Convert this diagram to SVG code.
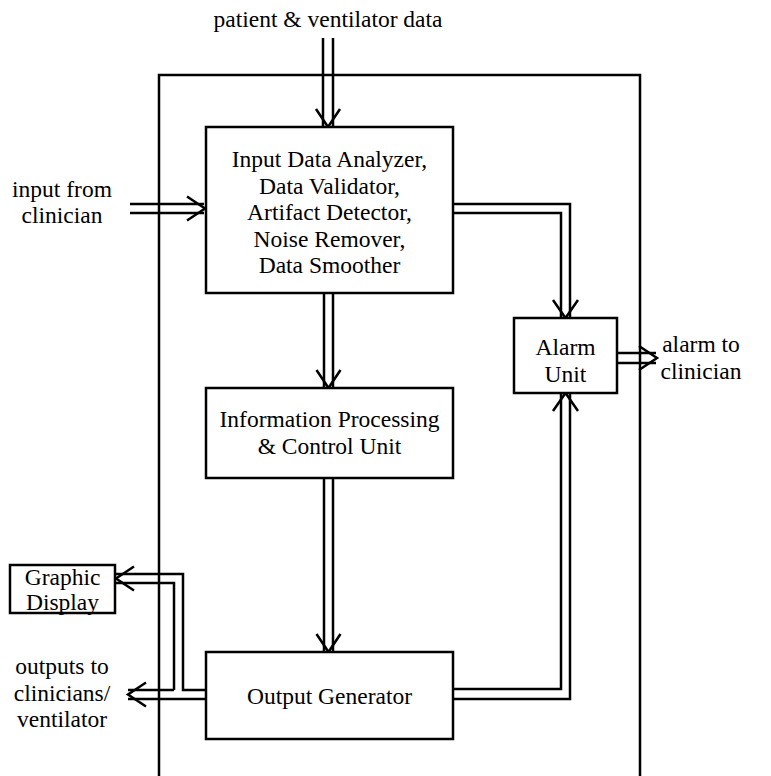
<svg xmlns="http://www.w3.org/2000/svg" width="771" height="776" viewBox="0 0 771 776">
  <style>
    .box { fill: #fff; stroke: #000; stroke-width: 2.5; }
    .ln { fill: none; stroke: #000; stroke-width: 2.5; stroke-linejoin: miter; }
    .hd { fill: none; stroke: #000; stroke-width: 2.5; stroke-linejoin: miter; }
    text { font-family: "Liberation Serif", "Times New Roman", serif; font-size: 23.5px; fill: #000; text-anchor: middle; }
  </style>
  <rect width="771" height="776" fill="#fff"/>

  <!-- system boundary (open at the bottom) -->
  <path class="ln" d="M159,776 V75 H640 V776"/>

  <g id="connectors">
    <!-- patient & ventilator data in -->
    <path class="ln" d="M323,38 V126 M333,38 V126"/>
    <path class="hd" d="M316,109 L328,127 L340,109"/>
    <!-- input from clinician -->
    <path class="ln" d="M130,204 H204 M130,213 H204"/>
    <path class="hd" d="M187,196.5 L205,208.5 L187,220.5"/>
    <!-- analyzer to alarm unit -->
    <path class="ln" d="M453,204 H570 V317 M453,213 H561 V317"/>
    <path class="hd" d="M553,300 L565.5,318 L578,300"/>
    <!-- analyzer to information processing -->
    <path class="ln" d="M324,293 V387 M333,293 V387"/>
    <path class="hd" d="M316.5,370 L328.5,388 L340.5,370"/>
    <!-- information processing to output generator -->
    <path class="ln" d="M324,478 V651 M333,478 V651"/>
    <path class="hd" d="M316.5,634 L328.5,652 L340.5,634"/>
    <!-- output generator to alarm unit -->
    <path class="ln" d="M453,689 H561 V394 M453,699 H570 V394"/>
    <path class="hd" d="M553,411 L565.5,393 L578,411"/>
    <!-- alarm to clinician -->
    <path class="ln" d="M617,353 H656 M617,363 H656"/>
    <path class="hd" d="M639,346 L657,358 L639,370"/>
    <!-- output generator to graphic display -->
    <path class="ln" d="M206,690 H183 V574 H116 M174,690 V583 H116"/>
    <path class="hd" d="M134,566.5 L116,578.5 L134,590.5"/>
    <!-- outputs to clinicians / ventilator -->
    <path class="ln" d="M174,690 H128 M206,699 H128"/>
    <path class="hd" d="M146,682.5 L128,694.5 L146,706.5"/>
  </g>

  <g id="analyzer">
    <rect class="box" x="206" y="127" width="247" height="166"/>
    <text x="329.5" y="167">Input Data Analyzer,</text>
    <text x="329.5" y="194">Data Validator,</text>
    <text x="329.5" y="220">Artifact Detector,</text>
    <text x="329.5" y="247">Noise Remover,</text>
    <text x="329.5" y="273">Data Smoother</text>
  </g>

  <g id="processing">
    <rect class="box" x="206" y="388" width="247" height="90"/>
    <text x="329.5" y="427">Information Processing</text>
    <text x="329.5" y="454">&amp; Control Unit</text>
  </g>

  <g id="output">
    <rect class="box" x="206" y="652" width="247" height="87"/>
    <text x="329.5" y="704">Output Generator</text>
  </g>

  <g id="alarm">
    <rect class="box" x="514" y="318" width="103" height="75"/>
    <text x="565.5" y="355">Alarm</text>
    <text x="565.5" y="382">Unit</text>
  </g>

  <g id="display">
    <rect class="box" x="10" y="565" width="105" height="48"/>
    <text x="62.5" y="585">Graphic</text>
    <text x="62.5" y="610">Display</text>
  </g>

  <g id="labels">
    <text x="328" y="27">patient &amp; ventilator data</text>
    <text x="62" y="197">input from</text>
    <text x="62" y="223">clinician</text>
    <text x="701" y="352">alarm to</text>
    <text x="701" y="379">clinician</text>
    <text x="62" y="674">outputs to</text>
    <text x="62" y="701">clinicians/</text>
    <text x="62" y="727">ventilator</text>
  </g>
</svg>
